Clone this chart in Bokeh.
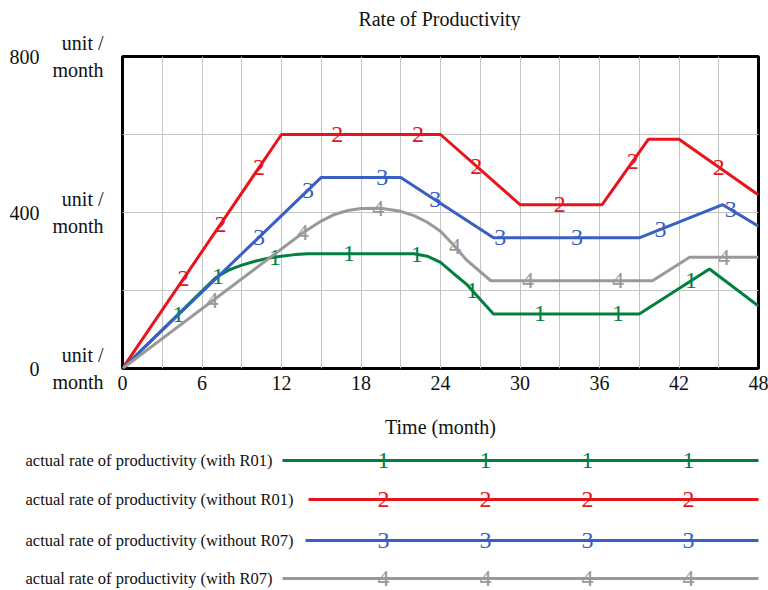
import numpy as np
from bokeh.plotting import figure
from bokeh.models import Range1d, FixedTicker, LinearAxis
from bokeh.layouts import column
from bokeh.core.properties import value
from bokeh.embed import file_html
from bokeh.resources import INLINE

FONT = "Liberation Serif"

# ---------------- data ----------------
title_text = "Rate of Productivity"
x_label = "Time (month)"
x_ticks = [0, 6, 12, 18, 24, 30, 36, 42, 48]
x_grid = [3, 6, 9, 12, 15, 18, 21, 24, 27, 30, 33, 36, 39, 42, 45]
y_ticks = [0, 400, 800]
y_grid = [200, 400, 600]
y_unit = "unit /\nmonth"

names = [
    "actual rate of productivity (with R01)",
    "actual rate of productivity (without R01)",
    "actual rate of productivity (without R07)",
    "actual rate of productivity (with R07)",
]
numbers = ["1", "2", "3", "4"]
colors = ["#00803f", "#e8141c", "#3a5fc4", "#999999"]

months_1 = [0, 7, 8, 9, 10, 11, 12, 13, 14, 22, 23, 24, 25, 26, 28, 39, 44.3, 48]
rate_1 = [0, 232, 252, 265, 275, 283, 288, 292, 294, 294, 288, 272, 243, 215, 140, 140, 255, 160]

months_2 = [0, 12, 24, 30, 36.2, 39.7, 42, 48]
rate_2 = [0, 600, 600, 420, 420, 588, 588, 445]

months_3 = [0, 15, 21, 28, 39, 45.3, 48]
rate_3 = [0, 490, 490, 335, 335, 420, 365]

months_4 = [0, 13.7, 15, 16, 17, 18, 19.5, 21, 22, 23, 24, 25, 26, 27.8, 40, 42.8, 48]
rate_4 = [0, 350, 378, 395, 405, 410, 411, 403, 392, 375, 352, 316, 277, 225, 225, 285, 285]

marks_1 = [4.2, 7.2, 11.5, 17.1, 22.2, 26.4, 31.5, 37.4, 42.9]
marks_2 = [4.6, 7.4, 10.3, 16.2, 22.3, 26.7, 33, 38.5, 45]
marks_3 = [10.3, 14, 19.6, 23.6, 28.5, 34.3, 40.6, 45.9]
marks_4 = [6.8, 13.6, 19.3, 25.1, 30.6, 37.4, 45.4]

series = [
    (months_1, rate_1, marks_1),
    (months_2, rate_2, marks_2),
    (months_3, rate_3, marks_3),
    (months_4, rate_4, marks_4),
]

# ---------------- title panel ----------------
t = figure(width=768, height=30, x_range=Range1d(0, 768), y_range=Range1d(30, 0),
           output_backend="svg", toolbar_location=None,
           min_border=0, min_border_left=0, min_border_right=0,
           min_border_top=0, min_border_bottom=0,
           x_axis_type=None, y_axis_type=None)
t.outline_line_color = None
t.grid.visible = False
t.text(x=[439], y=[18], text=[title_text], text_color="#111111",
       text_font=value(FONT), text_font_size=value("20px"),
       text_align="center", text_baseline="middle")

# ---------------- main chart ----------------
p = figure(width=768, height=414, x_range=Range1d(0, 48), y_range=Range1d(0, 800),
           output_backend="svg", toolbar_location=None,
           min_border_left=122, min_border_right=10, min_border_top=26, min_border_bottom=76)

p.outline_line_color = "black"
p.outline_line_width = 3
p.outline_line_alpha = 1.0

p.xgrid.ticker = FixedTicker(ticks=x_grid)
p.ygrid.ticker = FixedTicker(ticks=y_grid)
p.grid.grid_line_color = "#c4c4c4"
p.grid.grid_line_width = 1

xa = p.xaxis[0]
xa.ticker = FixedTicker(ticks=x_ticks)
xa.axis_label = x_label
xa.axis_label_text_font = FONT
xa.axis_label_text_font_size = "20px"
xa.axis_label_text_font_style = "normal"
xa.axis_label_text_color = "#111111"
xa.axis_label_standoff = 23
xa.major_label_text_font = FONT
xa.major_label_text_font_size = "20px"
xa.major_label_text_color = "#111111"
xa.major_label_standoff = 1
xa.axis_line_color = None
xa.major_tick_line_color = None
xa.minor_tick_line_color = None

ya = p.yaxis[0]
ya.ticker = FixedTicker(ticks=y_ticks)
ya.major_label_overrides = {t_: y_unit for t_ in y_ticks}
ya.major_label_text_font = FONT
ya.major_label_text_font_size = "20px"
ya.major_label_text_color = "#111111"
ya.major_label_text_align = "center"
ya.major_label_standoff = 13
ya.axis_line_color = None
ya.major_tick_line_color = None
ya.minor_tick_line_color = None

ya2 = LinearAxis(ticker=FixedTicker(ticks=y_ticks))
ya2.major_label_text_font = FONT
ya2.major_label_text_font_size = "20px"
ya2.major_label_text_color = "#111111"
ya2.major_label_standoff = 4
ya2.axis_line_color = None
ya2.major_tick_line_color = None
ya2.minor_tick_line_color = None
p.add_layout(ya2, "left")

for (mx, my, mk), col, num in zip(series, colors, numbers):
    p.line(mx, my, line_color=col, line_width=3)
    ky = np.interp(mk, mx, my)
    p.text(x=mk, y=ky, text=[num] * len(mk), text_color=col,
           text_font=value(FONT), text_font_size=value("24px"),
           text_align="center", text_baseline="middle")

# ---------------- legend panel ----------------
q = figure(width=768, height=146, x_range=Range1d(0, 768), y_range=Range1d(146, 0),
           output_backend="svg", toolbar_location=None,
           min_border=0, min_border_left=0, min_border_right=0,
           min_border_top=0, min_border_bottom=0,
           x_axis_type=None, y_axis_type=None)
q.outline_line_color = None
q.grid.visible = False

for fig in (t, p, q):
    try:
        fig.frame_align = False
    except Exception:
        pass

row_y = [16, 55, 96, 134]
line_start = [282, 308, 305, 282]
line_end = 758
legend_marks = [383, 485, 587, 688]

q.text(x=[25] * 4, y=row_y, text=names, text_color="#111111",
       text_font=value(FONT), text_font_size=value("16.5px"),
       text_align="left", text_baseline="middle")
for yy, x0, col, num in zip(row_y, line_start, colors, numbers):
    q.line([x0, line_end], [yy, yy], line_color=col, line_width=3)
    q.text(x=legend_marks, y=[yy] * len(legend_marks), text=[num] * len(legend_marks),
           text_color=col, text_font=value(FONT), text_font_size=value("24px"),
           text_align="center", text_baseline="middle")

layout = column(t, p, q, spacing=0)
open("out.html", "w").write(file_html(layout, INLINE))
